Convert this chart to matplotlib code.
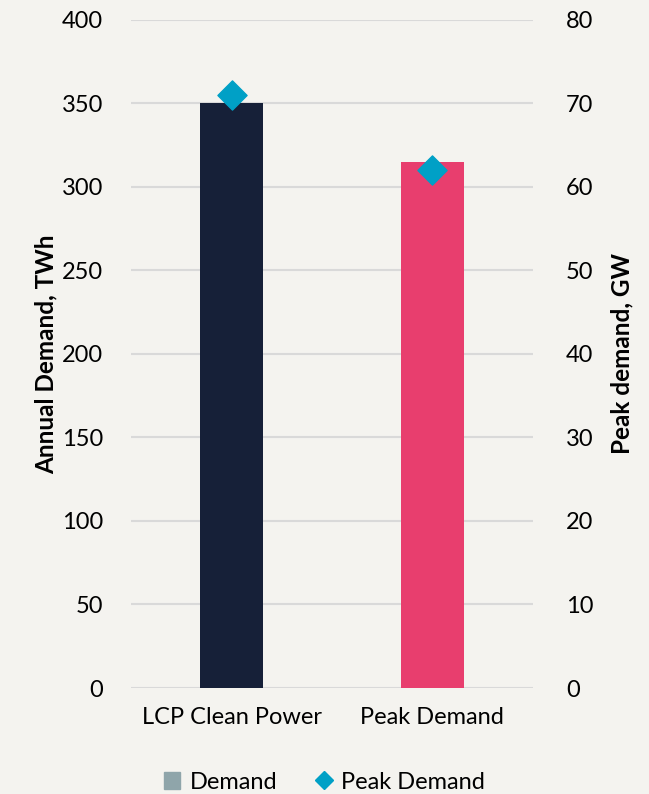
import numpy as np
import matplotlib
matplotlib.use('Agg')
import matplotlib.pyplot as plt
from matplotlib.lines import Line2D
from matplotlib.patches import Patch

categories = ['LCP Clean Power', 'Peak Demand']
annual_demand = [350, 315]
peak_demand = [71, 62]
bar_colors = ['#162038', '#E83E6E']

plt.rcParams['font.family'] = ['Lato', 'DejaVu Sans']

bg = '#F4F3EF'
fig = plt.figure(figsize=(6.49, 7.94), dpi=100, facecolor=bg)
ax = fig.add_axes([0.202, 0.1335, 0.619, 0.8415])
ax.set_facecolor(bg)
x = np.arange(len(categories))
ax.bar(x, annual_demand, width=0.31, color=bar_colors, zorder=3)
ax.set_xlim(-0.5, 1.5)
ax.set_ylim(0, 400)
ax.set_yticks(np.arange(0, 401, 50))
ax.grid(axis='y', color='#D9D9D9', linewidth=1.5, zorder=0)
ax.set_xticks(x)
ax.set_xticklabels(categories, fontsize=17)
ax.tick_params(axis='y', length=0, labelsize=17, pad=20)
ax.tick_params(axis='x', length=0, labelsize=17, pad=14)
for s in ax.spines.values():
    s.set_visible(False)
ax.set_ylabel('Annual Demand, TWh', fontsize=17.5, fontweight='bold', labelpad=3)

ax2 = ax.twinx()
ax2.scatter(x, peak_demand, marker='D', s=220, color='#00A0C6', zorder=4)
ax2.set_ylim(0, 80)
ax2.set_yticks(np.arange(0, 81, 10))
ax2.tick_params(axis='y', length=0, labelsize=17, pad=24)
for s in ax2.spines.values():
    s.set_visible(False)
ax2.set_ylabel('Peak demand, GW', fontsize=17.5, fontweight='bold', labelpad=12)

handles = [Patch(color='#8FA5AA', label='Demand'),
           Line2D([], [], marker='D', linestyle='', color='#00A0C6', markersize=9, label='Peak Demand')]
fig.legend(handles=handles, loc='lower center', bbox_to_anchor=(0.5, -0.025), ncol=2,
           frameon=False, fontsize=17, handlelength=0.7, handletextpad=0.4, columnspacing=1.6)

fig.savefig('out.png', dpi=100, facecolor=bg)
